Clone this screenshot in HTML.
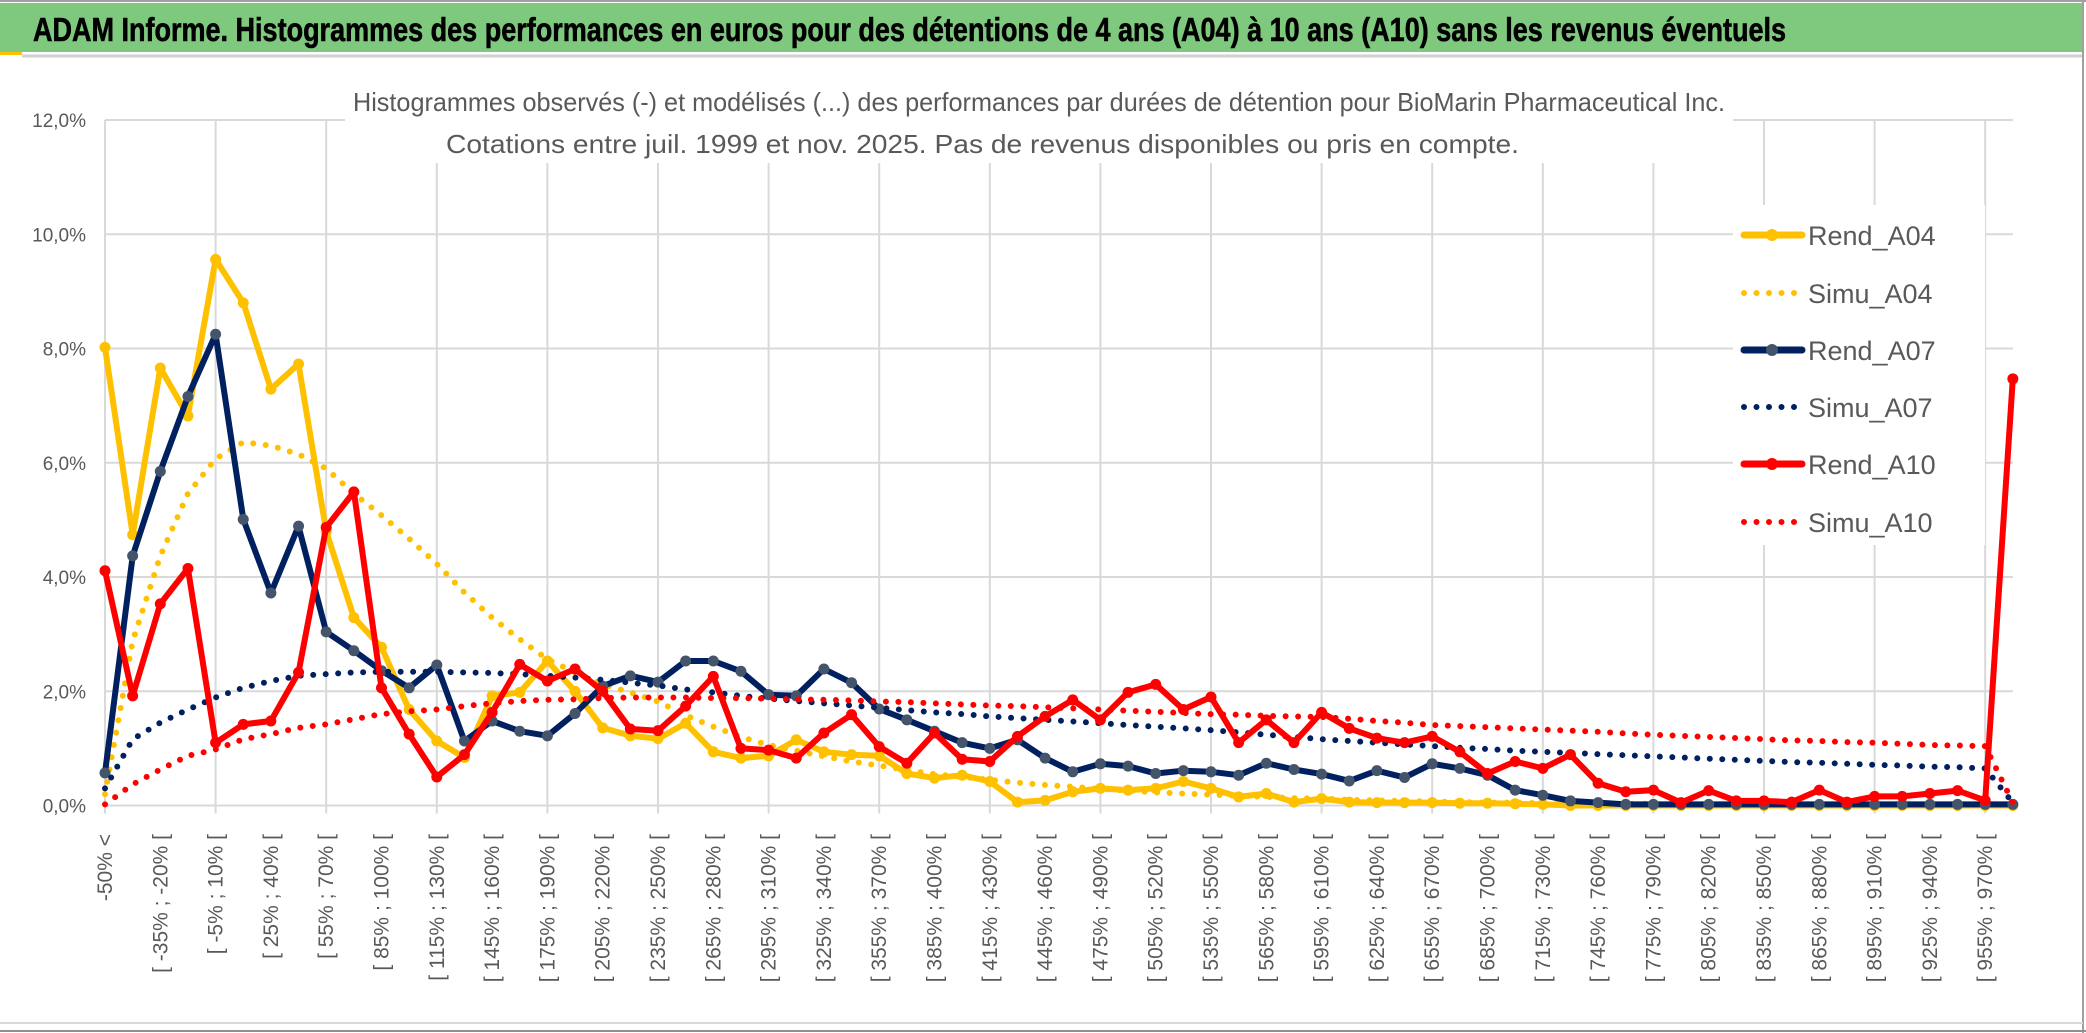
<!DOCTYPE html>
<html><head><meta charset="utf-8"><style>
html,body{margin:0;padding:0;background:#fff;}
svg{display:block;font-family:"Liberation Sans",sans-serif;}
</style></head><body>
<svg id="chart" width="2086" height="1033" viewBox="0 0 2086 1033" xmlns="http://www.w3.org/2000/svg">
<rect x="0" y="0" width="2086" height="1033" fill="#fff"/>
<rect x="0" y="3" width="2083" height="49" fill="#7fc97f"/>
<line x1="0" y1="1" x2="2086" y2="1" stroke="#a0a0a0" stroke-width="2"/>
<rect x="0" y="52" width="22" height="3" fill="#ffc000"/>
<line x1="22" y1="56" x2="2083" y2="56" stroke="#d0d0d0" stroke-width="3"/>
<line x1="2083" y1="0" x2="2083" y2="1033" stroke="#a0a0a0" stroke-width="2"/>
<line x1="0" y1="1023" x2="2083" y2="1023" stroke="#d8d8d8" stroke-width="2"/>
<line x1="0" y1="1031" x2="2086" y2="1031" stroke="#909090" stroke-width="2"/>
<text x="33" y="41" font-size="33" font-weight="bold" fill="#000" stroke="#000" stroke-width="0.6" textLength="1753" lengthAdjust="spacingAndGlyphs">ADAM Informe. Histogrammes des performances en euros pour des détentions de 4 ans (A04) à 10 ans (A10) sans les revenus éventuels</text>
<g id="grid"></g>
<rect x="345" y="60" width="1388" height="103" fill="#fff"/>
<text x="353" y="111" font-size="26" fill="#595959" textLength="1372" lengthAdjust="spacingAndGlyphs">Histogrammes observés (-) et modélisés (...) des performances par durées de détention pour BioMarin Pharmaceutical Inc.</text>
<text x="446" y="153" font-size="26" fill="#595959" textLength="1073" lengthAdjust="spacingAndGlyphs">Cotations entre juil. 1999 et nov. 2025. Pas de revenus disponibles ou pris en compte.</text>
<g id="yaxis"></g>
<g id="xaxis"></g>
<rect x="1733" y="205" width="252" height="340" fill="#fff"/>
<g id="series"></g>
<g id="legend"></g>
</svg>
<script>
const rendA04 = [8.02,4.74,7.66,6.82,9.56,8.80,7.29,7.73,4.8,3.29,2.77,1.68,1.13,0.84,1.92,1.98,2.53,2.0,1.36,1.22,1.17,
1.44,0.94,0.83,0.87,1.15,0.94,0.89,0.87,0.56,0.48,0.53,0.42,0.06,0.09,0.24,0.30,0.27,0.30,0.42,0.30,0.15,0.21,0.06,0.12,
0.06,0.05,0.05,0.05,0.04,0.04,0.03,0.02,0,0,0,0,0,0,0,0,0,0,0,0,0,0,0,0,0];
const simuA04 = [0.2,2.88,4.37,5.46,6.07,6.36,6.3,6.15,5.9,5.46,5.08,4.67,4.23,3.73,3.29,2.91,2.56,2.33,2.12,
1.98,1.82,1.58,1.38,1.2,1.06,0.96,0.86,0.77,0.70,0.62,0.55,0.50,0.45,0.40,0.36,0.33,0.29,0.26,0.23,0.21,0.19,0.17,0.15,0.13,0.12,0.10,0.09,0.08,0.07,0.06,0.05,0.05,0.04,
0.04,0.03,0.03,0.03,0.02,0.02,0.02,0.02,0.02,0.01,0.01,0.01,0.01,0.01,0.01,0.01,0.0];
const rendA07 = [0.57,4.37,5.85,7.16,8.25,5.01,3.72,4.89,3.04,2.71,2.36,2.06,2.46,1.13,1.48,1.30,1.22,1.61,2.09,2.27,2.16,
2.53,2.53,2.35,1.94,1.92,2.39,2.15,1.69,1.50,1.30,1.10,1.00,1.15,0.83,0.59,0.73,0.69,0.56,0.61,0.59,0.53,0.74,0.63,0.55,
0.43,0.61,0.49,0.73,0.65,0.53,0.27,0.18,0.08,0.05,0.02,0.02,0.02,0.02,0.02,0.02,0.02,0.02,0.02,0.02,0.02,0.02,0.02,0.02,0.02];
const simuA07 = [0.3,1.16,1.45,1.68,1.89,2.06,2.18,2.27,2.30,2.33,2.34,2.34,2.34,2.33,2.32,2.30,2.27,2.24,2.20,2.15,2.10,
2.03,1.98,1.92,1.87,1.83,1.79,1.75,1.71,1.67,1.63,1.60,1.56,1.53,1.50,1.47,1.44,1.41,1.38,1.35,1.32,1.28,1.24,1.20,1.16,
1.13,1.10,1.07,1.04,1.01,0.99,0.96,0.94,0.92,0.90,0.88,0.86,0.84,0.82,0.80,0.78,0.76,0.75,0.73,0.71,0.70,0.68,0.67,0.65,0.05];
const rendA10 = [4.11,1.92,3.53,4.15,1.10,1.42,1.48,2.33,4.87,5.49,2.06,1.25,0.50,0.89,1.63,2.47,2.18,2.39,2.0,1.34,1.31,
1.74,2.26,1.0,0.97,0.83,1.27,1.59,1.03,0.74,1.27,0.81,0.77,1.21,1.56,1.85,1.50,1.98,2.12,1.68,1.90,1.10,1.50,1.10,1.63,
1.35,1.18,1.10,1.21,0.94,0.56,0.77,0.65,0.89,0.39,0.24,0.27,0.05,0.26,0.08,0.08,0.06,0.27,0.06,0.16,0.16,0.21,0.26,0.09,7.47];
const simuA10 = [0.02,0.37,0.63,0.87,0.98,1.16,1.25,1.36,1.42,1.51,1.60,1.65,1.68,1.74,1.79,1.83,1.85,1.86,1.88,1.89,1.89,
1.89,1.88,1.88,1.87,1.86,1.85,1.84,1.82,1.81,1.79,1.77,1.75,1.74,1.72,1.70,1.68,1.66,1.64,1.62,1.60,1.59,1.57,1.56,1.55,
1.52,1.48,1.45,1.41,1.39,1.37,1.35,1.33,1.31,1.29,1.26,1.24,1.22,1.20,1.18,1.16,1.14,1.13,1.11,1.10,1.08,1.06,1.05,1.04,0.05];
const yTicks = [0,2,4,6,8,10,12];
const yTickLabels = ["0,0%","2,0%","4,0%","6,0%","8,0%","10,0%","12,0%"];
const legendNames = ["Rend_A04","Simu_A04","Rend_A07","Simu_A07","Rend_A10","Simu_A10"];

const NS = "http://www.w3.org/2000/svg";
const X0 = 105, DX = 27.65, Y0 = 805.5, YPER = 57.12, XR = 2013;
const N = rendA04.length;
function xs(i){ return X0 + i*DX; }
function ys(v){ return Y0 - v*YPER; }
function mk(tag, attrs, parent){ const e=document.createElementNS(NS,tag); for(const k in attrs) e.setAttribute(k,attrs[k]); parent.appendChild(e); return e; }
function catLabel(i){ if(i===0) return "-50% <"; const lo=-50+15*(i-1); return "[ "+lo+"% ; "+(lo+15)+"% ["; }

const grid=document.getElementById('grid');
yTicks.forEach((t,k)=>{
  const l=mk('line',{x1:X0,x2:XR,y1:ys(t),y2:ys(t),stroke:'#d9d9d9','stroke-width':2},grid);
  
  
});
for(let i=0;i<N;i+=4){
  const l=mk('line',{x1:xs(i),x2:xs(i),y1:ys(12),y2:Y0+8,stroke:'#d9d9d9','stroke-width':2},grid);
  
  
}
const yax=document.getElementById('yaxis');
yTicks.forEach((t,k)=>{
  const tx=mk('text',{x:86,y:ys(t)+7,'text-anchor':'end','font-size':19,fill:'#595959'},yax);
  tx.textContent=yTickLabels[k];
  
  
});
const xax=document.getElementById('xaxis');
for(let i=0;i<N;i+=2){
  const x=xs(i)+7, y=834;
  const tx=mk('text',{x:x,y:y,'text-anchor':'end','font-size':21,fill:'#595959',transform:'rotate(-90 '+x+' '+y+')'},xax);
  tx.textContent=catLabel(i);
  
  
}

const ser=document.getElementById('series');
function solid(data,color,mcolor,name){
  const g=mk('g',{},ser);
  
  
  const pts=data.map((v,i)=>xs(i).toFixed(1)+','+ys(v).toFixed(1)).join(' ');
  const p=mk('polyline',{points:pts,fill:'none',stroke:color,'stroke-width':6,'stroke-linejoin':'round'},g);
  
  
  data.forEach((v,i)=>{
    const c=mk('circle',{cx:xs(i),cy:ys(v),r:5.5,fill:mcolor},g);
    
    
  });
}
function dotted(data,color,name){
  const pts=data.map((v,i)=>xs(i).toFixed(1)+','+ys(v).toFixed(1)).join(' ');
  const p=mk('polyline',{points:pts,fill:'none',stroke:color,'stroke-width':6,'stroke-linecap':'round','stroke-dasharray':'0 12.5','stroke-linejoin':'round'},ser);
  
  
}
solid(rendA04,'#ffc000','#ffc000','rend-a04');
dotted(simuA04,'#ffc000','simu-a04');
solid(rendA07,'#002060','#44546a','rend-a07');
dotted(simuA07,'#002060','simu-a07');
solid(rendA10,'#ff0000','#ff0000','rend-a10');
dotted(simuA10,'#ff0000','simu-a10');

const leg=document.getElementById('legend');
const legColors=['#ffc000','#ffc000','#002060','#002060','#ff0000','#ff0000'];
const legMark=['#ffc000',null,'#44546a',null,'#ff0000',null];
const legY=[235,293,350,407,464,522];
legendNames.forEach((n,k)=>{
  const g=mk('g',{},leg);
  
  
  const y=legY[k];
  if(legMark[k]){
    mk('line',{x1:1744,x2:1802,y1:y,y2:y,stroke:legColors[k],'stroke-width':7,'stroke-linecap':'round'},g);
    mk('circle',{cx:1772,cy:y,r:6,fill:legMark[k]},g);
  } else {
    mk('line',{x1:1744,x2:1798,y1:y,y2:y,stroke:legColors[k],'stroke-width':6,'stroke-linecap':'round','stroke-dasharray':'0 12.5'},g);
  }
  const t=mk('text',{x:1808,y:y+10,'font-size':27,fill:'#595959'},g);
  t.textContent=n;
});
</script>
</body></html>
